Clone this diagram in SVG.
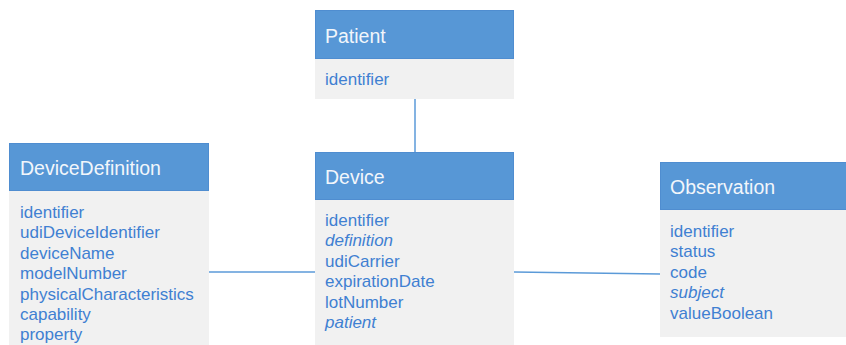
<svg xmlns="http://www.w3.org/2000/svg" width="846" height="345" viewBox="0 0 846 345">
<style>
.hd{fill:#5797d6;stroke:#4f8dd0;stroke-width:1}
.bd{fill:#f1f1f1}
.ht{font-family:"Liberation Sans",Arial,sans-serif;font-size:19.5px;fill:#f2f6fb}
.tx{font-family:"Liberation Sans",Arial,sans-serif;font-size:17px;fill:#3f80d2}
.it{font-style:italic}
.ln{stroke:#5b9ad8;stroke-width:1.5;fill:none}
</style>
<rect width="846" height="345" fill="#ffffff"/>
<g id="connectors">
<line class="ln" x1="415" y1="99" x2="415" y2="152"/>
<line class="ln" x1="209" y1="272" x2="315" y2="272"/>
<line class="ln" x1="514" y1="272" x2="660" y2="274"/>
</g>
<g id="patient">
<rect class="bd" x="315" y="59" width="199" height="40"/>
<rect class="hd" x="315.5" y="10.5" width="198" height="48"/>
<text class="ht" x="325" y="43">Patient</text>
<text class="tx" x="325" y="85">identifier</text>
</g>
<g id="deviceDefinition">
<rect class="bd" x="9" y="191" width="200" height="160"/>
<rect class="hd" x="9.5" y="143.5" width="199" height="47"/>
<text class="ht" x="20" y="175">DeviceDefinition</text>
<text class="tx" x="20" y="218">identifier</text>
<text class="tx" x="20" y="238.4">udiDeviceIdentifier</text>
<text class="tx" x="20" y="258.8">deviceName</text>
<text class="tx" x="20" y="279.2">modelNumber</text>
<text class="tx" x="20" y="299.6">physicalCharacteristics</text>
<text class="tx" x="20" y="320">capability</text>
<text class="tx" x="20" y="340.4">property</text>
</g>
<g id="device">
<rect class="bd" x="315" y="200" width="199" height="150"/>
<rect class="hd" x="315.5" y="152.5" width="198" height="47"/>
<text class="ht" x="325" y="184">Device</text>
<text class="tx" x="325" y="226">identifier</text>
<text class="tx it" x="325" y="246.4">definition</text>
<text class="tx" x="325" y="266.8">udiCarrier</text>
<text class="tx" x="325" y="287.2">expirationDate</text>
<text class="tx" x="325" y="307.6">lotNumber</text>
<text class="tx it" x="325" y="328">patient</text>
</g>
<g id="observation">
<rect class="bd" x="660" y="210" width="190" height="127"/>
<rect class="hd" x="660.5" y="162.5" width="190" height="47"/>
<text class="ht" x="670" y="194">Observation</text>
<text class="tx" x="670" y="237">identifier</text>
<text class="tx" x="670" y="257.4">status</text>
<text class="tx" x="670" y="277.8">code</text>
<text class="tx it" x="670" y="298.2">subject</text>
<text class="tx" x="670" y="318.6">valueBoolean</text>
</g>
</svg>
